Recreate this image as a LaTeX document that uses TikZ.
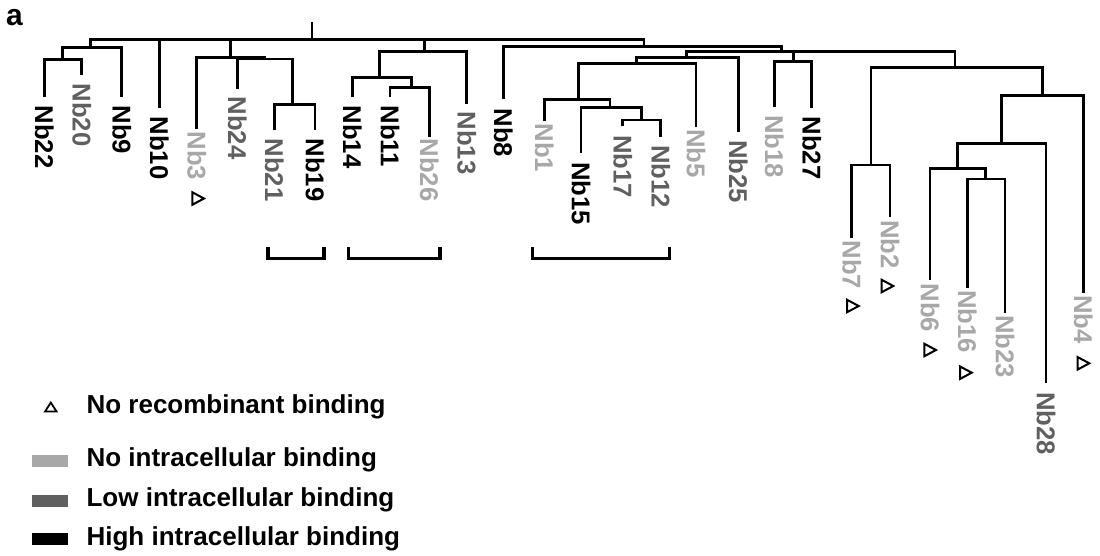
\documentclass[tikz,border=0pt]{standalone}
\usepackage{fontspec}
\setmainfont{Liberation Sans}
\definecolor{lowc}{HTML}{606060}
\definecolor{noc}{HTML}{A8A8A8}
\begin{document}
\begin{tikzpicture}[x=1pt,y=-1pt,
  br/.style={line width=2.9pt, line join=miter},
  bk/.style={line width=3.3pt, line join=miter},
  lab/.style={rotate=-90, anchor=west, inner sep=0pt, font=\fontsize{25.7}{26}\selectfont\bfseries},
  hi/.style={lab, text=black},
  lo/.style={lab, text=lowc},
  no/.style={lab, text=noc},
  leg/.style={anchor=base west, inner sep=0pt, font=\fontsize{26}{28}\selectfont\bfseries},
  trimark/.style={line width=2pt, line join=miter}]
\useasboundingbox (0,0) rectangle (1100,555);
\fill[white] (0,0) rectangle (1100,555);

\node[anchor=base west, inner sep=0pt, font=\fontsize{30}{32}\selectfont\bfseries] (panel) at (6,25) {a};

% internal nodes
\coordinate (top) at (312,22);
\coordinate (root) at (312,39.5);
\coordinate (L1) at (90.7,47.7);
\coordinate (L2) at (62.7,59.3);
\coordinate (A) at (230.7,57.3);
\coordinate (B) at (265,59);
\coordinate (C) at (292.7,104.3);
\coordinate (D) at (424.3,51.7);
\coordinate (E) at (379.3,77.3);
\coordinate (F) at (411.7,87.3);
\coordinate (G) at (644,46.2);
\coordinate (X) at (781.7,51.5);
\coordinate (P) at (686.7,57.6);
\coordinate (H) at (636.7,63.5);
\coordinate (I) at (578.3,99.3);
\coordinate (J) at (610,107.3);
\coordinate (K) at (641.7,120);
\coordinate (Q) at (793.3,61.7);
\coordinate (R) at (955,67.7);
\coordinate (S) at (871,165);
\coordinate (T) at (1042.7,95.7);
\coordinate (U) at (1001.7,143.3);
\coordinate (V) at (957.3,168.3);
\coordinate (W) at (985.7,179);

% leaf ends
\coordinate (e22) at (44.3,97);
\coordinate (e20) at (81.7,75);
\coordinate (e9) at (121.7,97);
\coordinate (e10) at (159.3,108);
\coordinate (e3) at (196.7,129);
\coordinate (e24) at (237.3,89);
\coordinate (e21) at (274.3,130);
\coordinate (e19) at (315,130);
\coordinate (e14) at (352.3,96.7);
\coordinate (e11) at (390,96.7);
\coordinate (e26) at (429.3,136.7);
\coordinate (e13) at (466.7,104);
\coordinate (e8) at (503.3,99);
\coordinate (e1) at (544.3,120.7);
\coordinate (e15) at (581,153.3);
\coordinate (e17) at (622.7,126);
\coordinate (e12) at (660.7,136.7);
\coordinate (e5) at (696,126.7);
\coordinate (e25) at (738.3,131.7);
\coordinate (e18) at (774.3,106.7);
\coordinate (e27) at (811.7,108);
\coordinate (e7) at (851.7,238);
\coordinate (e2) at (890,216.7);
\coordinate (e6) at (930,280);
\coordinate (e16) at (967.3,288.3);
\coordinate (e23) at (1005,313.3);
\coordinate (e28) at (1046,383.3);
\coordinate (e4) at (1083.3,293.3);

% tree
\draw[br] (top) -- (root);
\draw[br] (L1) |- (root) -| (G);
\draw[br] (e10) |- (root);
\draw[br] (A) |- (root);
\draw[br] (D) |- (root);
\draw[br] (L2) |- (L1) -| (e9);
\draw[br] (e22) |- (L2) -| (e20);
\draw[br] (e3) |- (A) -| (B);
\draw[br] (e24) |- (B) -| (C);
\draw[br] (e21) |- (C) -| (e19);
\draw[br] (E) |- (D) -| (e13);
\draw[br] (e14) |- (E) -| (F);
\draw[br] (e11) |- (F) -| (e26);
\draw[br] (e8) |- (G) -| (X);
\draw[br] (P) |- (X) -| (R);
\draw[br] (Q) |- (X);
\draw[br] (H) |- (P) -| (e25);
\draw[br] (I) |- (H) -| (e5);
\draw[br] (e1) |- (I) -| (J);
\draw[br] (e15) |- (J) -| (K);
\draw[br] (e17) |- (K) -| (e12);
\draw[br] (e18) |- (Q) -| (e27);
\draw[br] (S) |- (R) -| (T);
\draw[br] (e7) |- (S) -| (e2);
\draw[br] (U) |- (T) -| (e4);
\draw[br] (V) |- (U) -| (e28);
\draw[br] (e6) |- (V) -| (W);
\draw[br] (e16) |- (W) -| (e23);

% leaf labels
\node[hi] (Nb22) at (44.3,105.5) {Nb22};
\node[lo] (Nb20) at (81.7,83.5) {Nb20};
\node[hi] (Nb9) at (121.7,105.5) {Nb9};
\node[hi] (Nb10) at (159.3,116.5) {Nb10};
\node[no] (Nb3) at (196.7,131.5) {Nb3};
\node[lo] (Nb24) at (237.3,96.5) {Nb24};
\node[lo] (Nb21) at (274.3,138.5) {Nb21};
\node[hi] (Nb19) at (315,138.5) {Nb19};
\node[hi] (Nb14) at (352.3,105.5) {Nb14};
\node[hi] (Nb11) at (390,105.5) {Nb11};
\node[no] (Nb26) at (429.3,138.5) {Nb26};
\node[lo] (Nb13) at (466.7,111.5) {Nb13};
\node[hi] (Nb8) at (503.3,108.5) {Nb8};
\node[no] (Nb1) at (544.3,123.5) {Nb1};
\node[hi] (Nb15) at (581,161.8) {Nb15};
\node[lo] (Nb17) at (622.7,135.2) {Nb17};
\node[lo] (Nb12) at (660.7,145.2) {Nb12};
\node[no] (Nb5) at (696,129.2) {Nb5};
\node[lo] (Nb25) at (738.3,140.2) {Nb25};
\node[no] (Nb18) at (774.3,115.2) {Nb18};
\node[hi] (Nb27) at (811.7,116.5) {Nb27};
\node[no] (Nb7) at (851.7,240.5) {Nb7};
\node[no] (Nb2) at (890,220.2) {Nb2};
\node[no] (Nb6) at (930,283.5) {Nb6};
\node[no] (Nb16) at (967.3,290.2) {Nb16};
\node[no] (Nb23) at (1005,315.2) {Nb23};
\node[lo] (Nb28) at (1046,391.8) {Nb28};
\node[no] (Nb4) at (1083.3,295.2) {Nb4};

% no recombinant binding marks (pointing right)
\foreach \cx/\cy in {198/198.5, 852.7/306, 887.3/286, 930/350, 965.7/372.7, 1083.3/363.3}{
  \draw[trimark] (\cx-5.6,\cy-6.2) -- (\cx+6,\cy) -- (\cx-5.6,\cy+6.2) -- cycle;
}

% brackets
\draw[bk] (268,247) |- (324,258.5) -- (324,247);
\draw[bk] (348.3,247) |- (440,258.5) -- (440,247);
\draw[bk] (532.7,247) |- (669.3,258.5) -- (669.3,247);

% legend
\draw[trimark, line width=1.8pt] (45.1,411.4) -- (56.5,411.4) -- (50.8,402.6) -- cycle;
\node[leg] (t1) at (86.4,413.3) {No recombinant binding};
\fill[noc] (31.7,455) rectangle (68.3,466.7);
\node[leg] (t2) at (86.4,466.7) {No intracellular binding};
\fill[lowc] (31.7,495) rectangle (68.3,506.7);
\node[leg] (t3) at (86.4,506.7) {Low intracellular binding};
\fill[black] (31.7,533.3) rectangle (68.3,545);
\node[leg] (t4) at (86.4,545) {High intracellular binding};
\end{tikzpicture}
\end{document}
